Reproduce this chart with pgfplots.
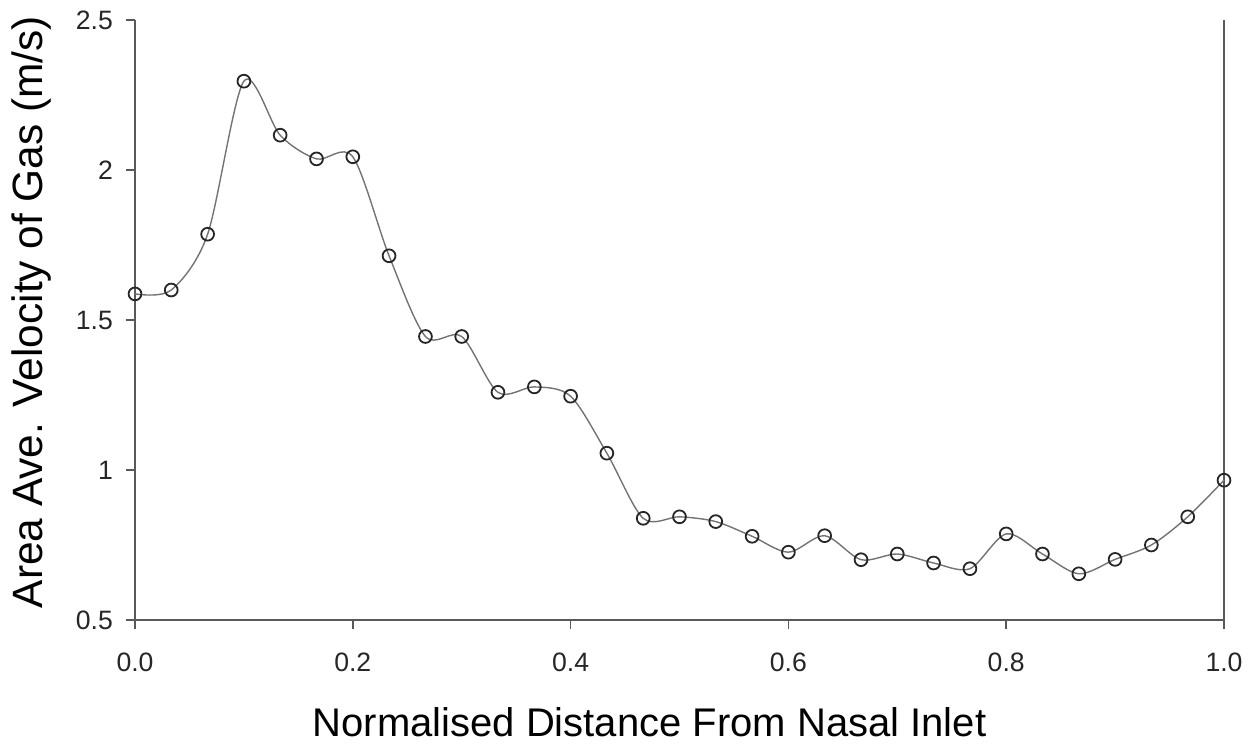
\documentclass[border=0pt]{standalone}
\usepackage{fontspec}
\setmainfont{Liberation Sans}
\usepackage{pgfplots}
\pgfplotsset{compat=1.18}
\begin{document}
\begin{tikzpicture}
\begin{axis}[
  scale only axis,
  width=544.5pt, height=300pt,
  xmin=0, xmax=1, ymin=0.5, ymax=2.5,
  axis lines=left,
  axis line style={-, draw=black!65, line width=0.8pt},
  xtick={0,0.2,0.4,0.6,0.8,1.0},
  ytick={0.5,1,1.5,2,2.5},
  xticklabel style={/pgf/number format/.cd, fixed, fixed zerofill, precision=1},
  yticklabel style={/pgf/number format/.cd, fixed},
  /pgf/number format/assume math mode=true,
  tick style={draw=black!65, line width=0.8pt},
  tick align=outside,
  major tick length=4.5pt,
  ticklabel style={font=\fontsize{13.3}{16}\selectfont, text=black!85},
  xticklabel shift=8.5pt,
  yticklabel shift=3pt,
  xlabel={Normalised Distance From Nasal Inlet},
  ylabel={Area Ave. Velocity of Gas (m/s)},
  xlabel style={font=\fontsize{20}{24}\selectfont, at={(axis description cs:0.5,0)}, anchor=north, xshift=-15pt, yshift=-40pt},
  ylabel style={font=\fontsize{21.2}{25}\selectfont, at={(axis description cs:0,0.5)}, anchor=south, xshift=4pt, yshift=38.5pt},
  clip=false,
]
\draw[draw=black!65, line width=0.8pt] (rel axis cs:1,0) -- (rel axis cs:1,1);
\addplot[smooth, draw=black!55, line width=0.7pt,
  mark=o, mark size=3.2pt, mark options={draw=black!85, line width=0.9pt, fill=none}]
coordinates {
(0.0000,1.587)
(0.0333,1.600)
(0.0667,1.786)
(0.1000,2.296)
(0.1333,2.116)
(0.1667,2.037)
(0.2000,2.044)
(0.2333,1.714)
(0.2667,1.445)
(0.3000,1.445)
(0.3333,1.259)
(0.3667,1.277)
(0.4000,1.246)
(0.4333,1.056)
(0.4667,0.839)
(0.5000,0.844)
(0.5333,0.828)
(0.5667,0.779)
(0.6000,0.726)
(0.6333,0.781)
(0.6667,0.701)
(0.7000,0.720)
(0.7333,0.690)
(0.7667,0.671)
(0.8000,0.787)
(0.8333,0.720)
(0.8667,0.654)
(0.9000,0.702)
(0.9333,0.750)
(0.9667,0.844)
(1.0000,0.966)
};
\end{axis}
\path (current axis.south west) ++(-67.5pt,-62pt) coordinate (bl);
\path (current axis.north east) ++(17.5pt,10pt) coordinate (tr);
\path (bl) rectangle (tr);
\end{tikzpicture}
\end{document}
